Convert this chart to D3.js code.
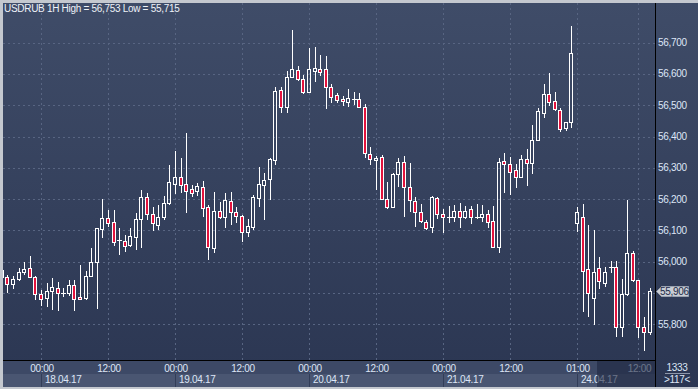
<!DOCTYPE html>
<html>
<head>
<meta charset="utf-8">
<script src="https://cdn.jsdelivr.net/npm/d3@7"></script>
<style>
  body { margin: 0; background: #c4c8cf; }
  svg { display: block; font-family: "Liberation Sans", Arial, sans-serif; }
</style>
</head>
<body>
<svg width="698" height="389"></svg>
<script>
// USDRUB hourly bars, 17.04.17 17:00 -> 24.04.17 14:00 (weekend gap)
const opens = [55974,55952,55928,55944,55966,55979,55950,55896,55885,55907,55915,55899,55899,55926,55886,55883,55955,56000,56104,56139,
  56126,56069,56067,56053,56078,56136,56208,56152,56118,56144,56187,56247,56270,56247,56231,56226,56238,56174,56043,56162,
  56142,56194,56159,56146,56096,56112,56203,56245,56263,56325,56549,56495,56589,56613,56585,56543,56610,56615,56615,56557,
  56532,56520,56509,56521,56519,56494,56343,56325,56334,56199,56176,56280,56318,56240,56194,56158,56126,56110,56203,56152,
  56142,56144,56162,56144,56168,56144,56144,56152,56130,56048,56322,56311,56293,56272,56328,56315,56389,56476,56535,56514,
  56485,56426,56446,56123,56144,55976,55885,55979,55933,55982,55984,55792,55896,56027,55942,55792,55776];
const highs = [55980,55958,55954,55979,56000,56018,55955,55910,55931,55947,55936,55916,55942,55942,55990,55971,56044,56108,56200,56165,
  56165,56107,56085,56109,56155,56229,56219,56176,56181,56210,56309,56354,56331,56410,56245,56253,56258,56181,56224,56192,
  56221,56224,56174,56149,56138,56213,56304,56285,56331,56557,56557,56610,56741,56626,56597,56684,56687,56661,56657,56568,
  56539,56530,56552,56542,56538,56503,56366,56338,56341,56256,56283,56331,56338,56314,56206,56184,56133,56210,56206,56168,
  56178,56181,56187,56178,56178,56184,56181,56165,56178,56331,56347,56334,56312,56341,56359,56437,56490,56568,56602,56542,
  56492,56447,56753,56174,56184,56117,56101,56014,55984,56002,56003,55944,56197,56034,55942,55824,55915];
const lows = [55948,55899,55912,55938,55958,55947,55878,55859,55856,55846,55843,55888,55890,55843,55878,55878,55954,55849,56075,56112,
  56050,56021,56032,56048,56037,56043,56133,56099,56101,56133,56181,56216,56219,56155,56206,56210,56142,56006,56027,56136,
  56107,56117,56123,56064,56080,56101,56176,56133,56197,56309,56474,56476,56587,56579,56536,56540,56575,56594,56487,56508,
  56508,56499,56496,56501,56490,56331,56309,56229,56197,56168,56175,56240,56144,56160,56110,56123,56101,56093,56137,56093,
  56123,56128,56107,56136,56120,56136,56128,56107,56043,56027,56219,56213,56235,56267,56242,56280,56386,56458,56499,56483,
  56416,56419,56428,56096,55840,55824,55798,55912,55920,55964,55760,55760,55890,55935,55755,55715,55766];
const closes = [55952,55929,55944,55966,55976,55950,55897,55880,55906,55918,55899,55899,55926,55880,55880,55954,55998,56107,56139,56125,
  56064,56069,56051,56082,56136,56208,56152,56123,56142,56187,56254,56270,56245,56227,56221,56242,56171,56046,56162,56142,
  56197,56160,56147,56096,56114,56206,56248,56261,56327,56546,56494,56590,56615,56585,56542,56615,56618,56607,56559,56527,
  56518,56513,56523,56521,56494,56347,56328,56331,56200,56174,56280,56318,56238,56197,56158,56130,56107,56206,56152,56142,
  56142,56163,56144,56163,56144,56144,56152,56126,56048,56318,56311,56288,56272,56327,56315,56389,56482,56535,56510,56487,
  56423,56446,56666,56158,55970,55899,55968,55938,55966,55982,55790,55896,56029,55942,55790,55776,55906];

const priceTicks = [55800, 55900, 56000, 56100, 56200, 56300, 56400, 56500, 56600, 56700];
const titleText = "USDRUB 1H High = 56,753 Low = 55,715";
const lastPrice = 55906;
const totalBars = "1333";
const visibleBars = ">117<";

// bar times: two trading sessions
const times = d3.timeHour.range(new Date(2017, 3, 17, 17), new Date(2017, 3, 22, 0))
  .concat(d3.timeHour.range(new Date(2017, 3, 24, 1), new Date(2017, 3, 24, 15)));
const bars = times.map((t, i) => ({t, i, o: opens[i], h: highs[i], l: lows[i], c: closes[i]}));

const svg = d3.select("svg");
const W = 698, H = 389;
const plot = {left: 3, top: 3, right: 655, bottom: 360};

const x = d3.scalePoint().domain(d3.range(bars.length)).range([1.9, 649.6]);
const y = d3.scaleLinear().domain([55800, 56700]).range([324.3, 42.7]);

const defs = svg.append("defs");
const grad = defs.append("linearGradient").attr("id", "bg").attr("x1", 0).attr("y1", 0).attr("x2", 0).attr("y2", 1);
grad.append("stop").attr("offset", 0).attr("stop-color", "#3f4c68");
grad.append("stop").attr("offset", 1).attr("stop-color", "#2b3652");
defs.append("clipPath").attr("id", "clip").append("rect")
  .attr("x", plot.left).attr("y", plot.top)
  .attr("width", plot.right - plot.left).attr("height", plot.bottom - plot.top);

// frame
svg.append("rect").attr("width", W).attr("height", H).attr("fill", "#c4c8cf");
svg.append("rect").attr("x", plot.left).attr("y", plot.top)
  .attr("width", W - plot.left).attr("height", H - plot.top - 2)
  .attr("fill", "url(#bg)");

// bottom time axis band
svg.append("rect").attr("x", plot.left).attr("y", plot.bottom)
  .attr("width", plot.right - plot.left).attr("height", H - 2 - plot.bottom)
  .attr("fill", "#3d4966");

// grid
const timeTicks = bars.filter((b, i) => b.t.getHours() % 12 === 0 || (i > 0 && b.t - bars[i - 1].t > 3600000));
const dateTicks = bars.filter((b, i) => i > 0 && (b.t.getHours() === 0 || b.t - bars[i - 1].t > 3600000));

const grid = svg.append("g").attr("clip-path", "url(#clip)")
  .attr("stroke", "#586582").attr("stroke-dasharray", "2,3").attr("stroke-width", 1);
grid.selectAll(".hg").data(priceTicks).join("line")
  .attr("x1", plot.left).attr("x2", plot.right)
  .attr("y1", d => Math.round(y(d)) + 0.5).attr("y2", d => Math.round(y(d)) + 0.5);
grid.selectAll(".vg").data(timeTicks).join("line")
  .attr("x1", d => Math.round(x(d.i)) + 0.5).attr("x2", d => Math.round(x(d.i)) + 0.5)
  .attr("y1", plot.top).attr("y2", plot.bottom);

// candles
const up = "#ffffff", down = "#e3133d";
const g = svg.append("g").attr("clip-path", "url(#clip)");
bars.forEach(d => {
  const cx = Math.round(x(d.i));
  const top = Math.round(y(Math.max(d.o, d.c)));
  const bot = Math.round(y(Math.min(d.o, d.c)));
  const yh = Math.round(y(d.h)), yl = Math.round(y(d.l));
  if (yh < top) g.append("line").attr("x1", cx + 0.5).attr("x2", cx + 0.5).attr("y1", yh).attr("y2", top).attr("stroke", up);
  if (yl > bot) g.append("line").attr("x1", cx + 0.5).attr("x2", cx + 0.5).attr("y1", bot).attr("y2", yl).attr("stroke", up);
  if (bot - top < 1) {
    g.append("line").attr("x1", cx - 2).attr("x2", cx + 3).attr("y1", top + 0.5).attr("y2", top + 0.5).attr("stroke", up);
  } else {
    g.append("rect").attr("x", cx - 1.5).attr("y", top + 0.5)
      .attr("width", 3).attr("height", bot - top)
      .attr("fill", d.c < d.o ? down : "none").attr("stroke", up);
  }
});

// plot borders
svg.append("line").attr("x1", plot.left).attr("x2", plot.right + 1).attr("y1", plot.bottom + 0.5).attr("y2", plot.bottom + 0.5).attr("stroke", "#000");
svg.append("line").attr("x1", plot.right + 0.5).attr("x2", plot.right + 0.5).attr("y1", plot.top).attr("y2", H - 2).attr("stroke", "#000");

const txt = "#dde6f6";
// title
svg.append("text").attr("x", 4).attr("y", 12).attr("fill", "#eef2f8")
  .attr("font-size", 10).attr("letter-spacing", -0.3).text(titleText);

// price axis labels
svg.append("g").selectAll("text").data(priceTicks.filter(d => d !== 55900)).join("text")
  .attr("x", 658).attr("y", d => y(d)).attr("dy", "0.35em")
  .attr("fill", txt).attr("font-size", 10).attr("letter-spacing", -0.3)
  .text(d => d3.format(",")(d));

// last price marker
const fmt = d3.format(",");
const py = Math.round(y(lastPrice));
svg.append("path")
  .attr("d", `M656.5,${py + 0.5} L661.5,${py - 4.5} L688.5,${py - 4.5} L688.5,${py + 5.5} L661.5,${py + 5.5} Z`)
  .attr("fill", "#c9cdd4").attr("stroke", "#9aa2b0");
svg.append("text").attr("x", 660).attr("y", py).attr("dy", "0.38em")
  .attr("fill", "#1c2a48").attr("font-size", 10).attr("letter-spacing", -0.3)
  .text(fmt(lastPrice));

// time labels
const ax = svg.append("g");
ax.selectAll(".tl").data(timeTicks).join("text")
  .attr("x", d => x(d.i) + 1).attr("y", 371.5).attr("text-anchor", "middle")
  .attr("fill", txt).attr("font-size", 10).attr("letter-spacing", -0.3)
  .text(d => d3.timeFormat("%H:%M")(d.t));

// date row
const dateRow = ax.append("g");
dateRow.append("rect").attr("x", plot.left).attr("y", 374).attr("width", plot.right - plot.left).attr("height", 13).attr("fill", "#4a5672");
dateRow.selectAll(".sep").data(dateTicks).join("line")
  .attr("x1", d => Math.round(x(d.i)) + 0.5).attr("x2", d => Math.round(x(d.i)) + 0.5)
  .attr("y1", 374).attr("y2", 387).attr("stroke", "#323d58");
dateRow.selectAll(".dl").data(dateTicks).join("text")
  .attr("x", d => Math.round(x(d.i)) + 4).attr("y", 382.5)
  .attr("fill", txt).attr("font-size", 10).attr("letter-spacing", -0.3)
  .text(d => d3.timeFormat("%d.%m.%y")(d.t));

// shaded zone at the right end of the time axis
svg.append("rect").attr("x", 597).attr("y", 361).attr("width", plot.right - 597).attr("height", 26)
  .attr("fill", "#1e2740").attr("opacity", 0.6);

// bar counters
svg.append("text").attr("x", 677).attr("y", 370.5).attr("text-anchor", "middle")
  .attr("fill", txt).attr("font-size", 10).attr("letter-spacing", -0.3).text(totalBars);
svg.append("line").attr("x1", 665).attr("x2", 690).attr("y1", 373.5).attr("y2", 373.5).attr("stroke", "#8d97aa");
svg.append("text").attr("x", 677).attr("y", 382.5).attr("text-anchor", "middle")
  .attr("fill", txt).attr("font-size", 10).attr("letter-spacing", -0.3).text(visibleBars);
</script>
</body>
</html>
